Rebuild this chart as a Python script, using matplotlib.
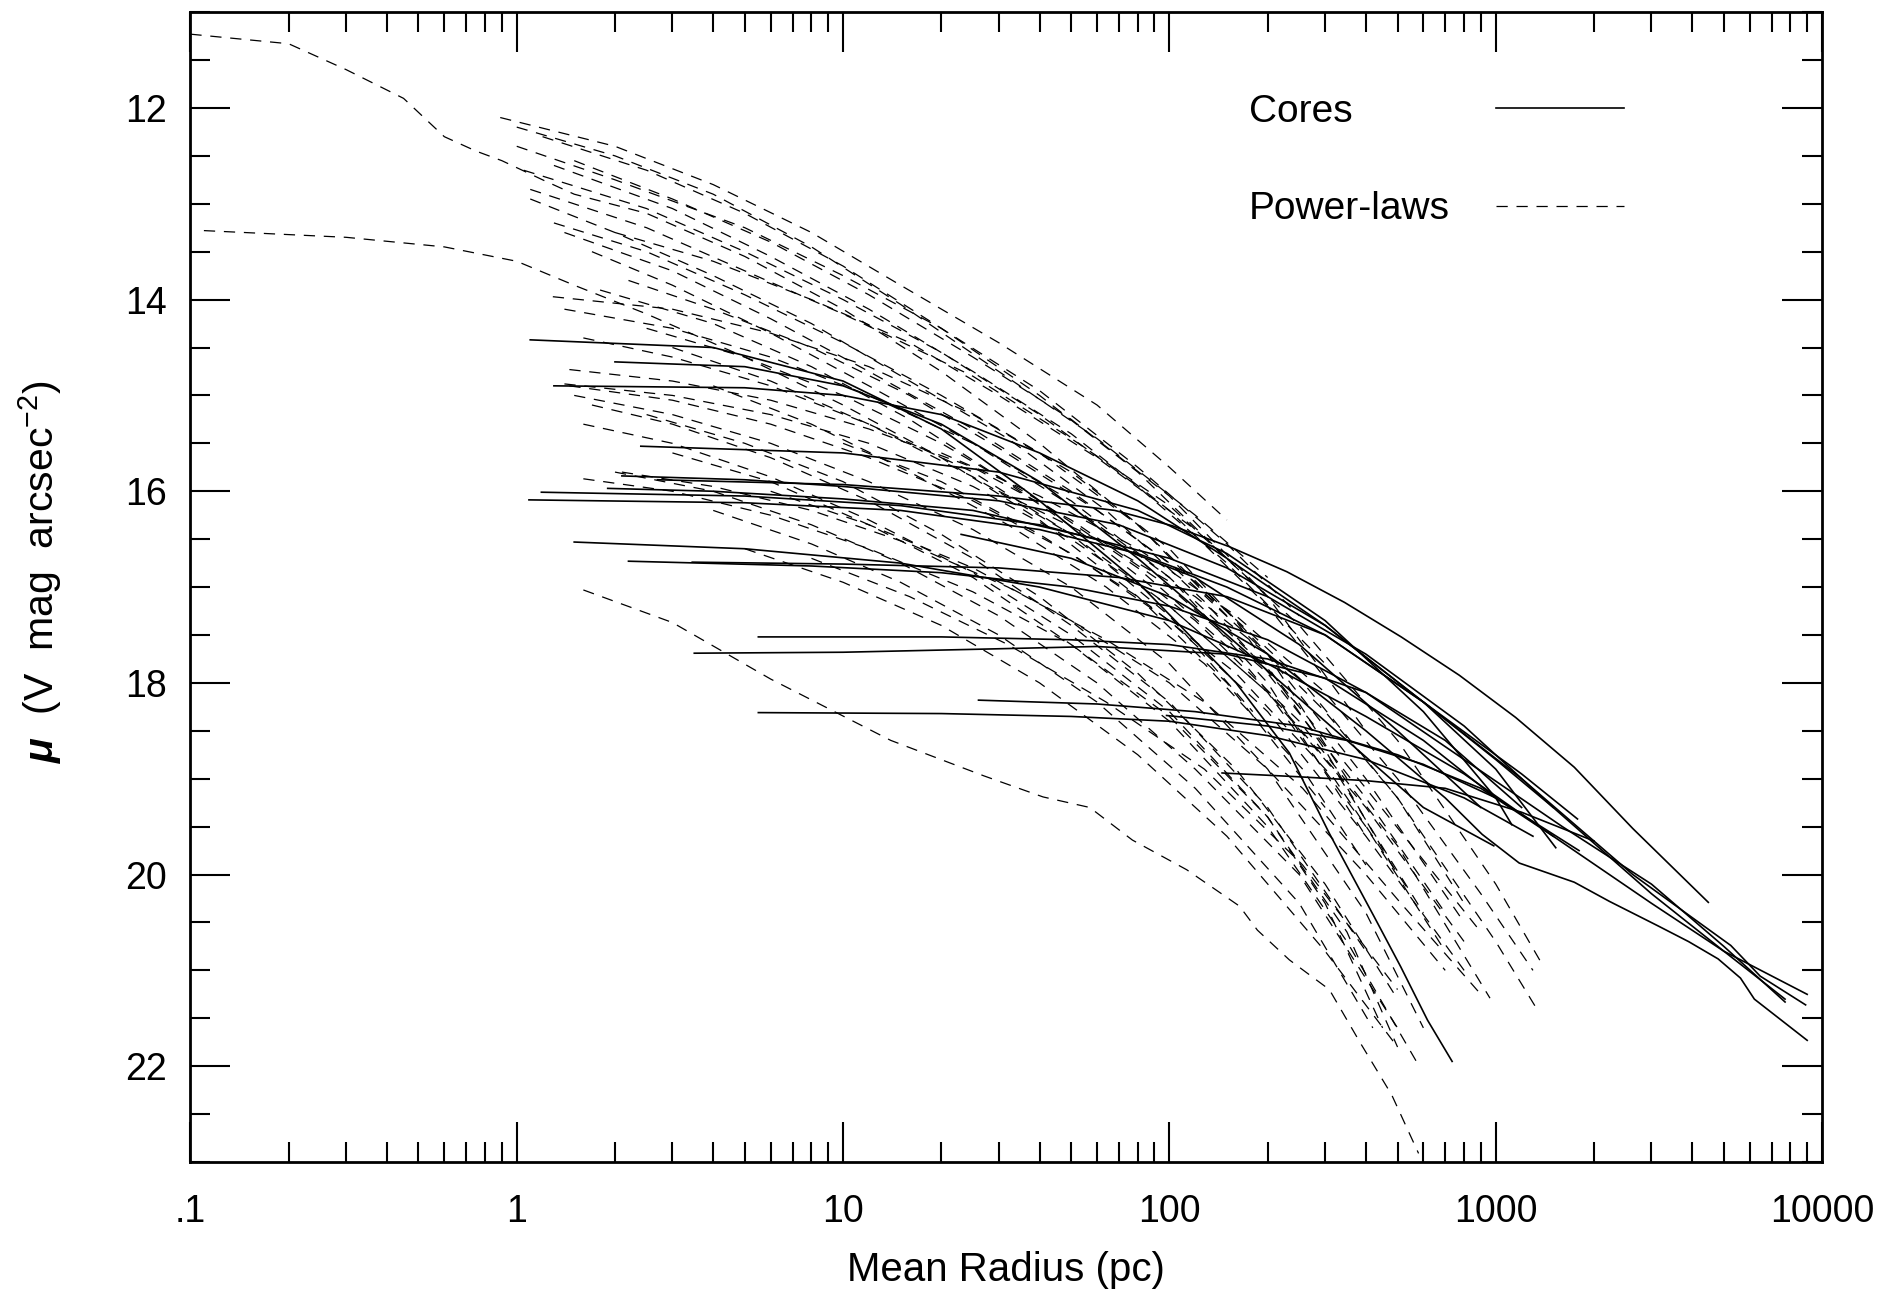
import numpy as np
import matplotlib
matplotlib.use("Agg")
import matplotlib.pyplot as plt
from matplotlib.lines import Line2D
from matplotlib.ticker import FixedLocator, FixedFormatter, NullFormatter

plt.rcParams['font.family'] = ['Liberation Sans', 'DejaVu Sans']
plt.rcParams['mathtext.fontset'] = 'custom'
plt.rcParams['mathtext.rm'] = 'Liberation Sans'
plt.rcParams['mathtext.it'] = 'Liberation Sans:italic'
plt.rcParams['mathtext.bf'] = 'Liberation Sans:bold:italic'

# profils "core" (traits pleins) : rayon moyen (pc) et brillance (V mag arcsec^-2)
core_r = [
    [1.1, 4, 10, 20, 40, 80, 160, 233, 309, 424, 511, 618, 735],
    [2.0, 5, 10, 20, 40, 80, 150, 300, 600, 986],
    [1.3, 5, 10, 20, 40, 80, 150, 300, 600, 1200, 1780],
    [2.1, 5, 10, 30, 70, 150, 300, 600, 1000, 1527],
    [2.7, 10, 30, 68, 102, 153, 229, 344, 513, 773, 1150, 1740, 2630, 4480],
    [1.5, 5, 15, 40, 100, 200, 400, 800, 1500, 3000, 5000, 9000],
    [2.2, 8, 20, 50, 100, 200, 400, 800, 1600, 3000, 5000, 7700],
    [23, 50, 100, 200, 400, 700, 908, 1180, 1740, 2230, 3160, 3900, 4800, 5620, 6200, 9000],
    [1.09, 5, 15, 40, 80, 150, 300, 600, 1200, 2630, 3890, 5250, 6460, 8900],
    [1.19, 5, 15, 40, 100, 200, 400, 800, 1500, 3000, 5000, 7700],
    [2.4, 10, 30, 80, 150, 300, 600, 1000, 1120],
    [1.9, 4, 10, 25, 60, 120, 250, 500, 900],
    [5.5, 20, 50, 100, 200, 400, 700, 1200],
    [3.5, 10, 25, 60, 150, 300, 600, 1000],
    [5.5, 20, 50, 100, 200, 400, 800, 1300],
    [26, 60, 120, 250, 500, 900, 1500],
    [145, 250, 400, 700, 1200, 2000],
    [98, 200, 350, 600, 1000, 1800],
    [3.45, 10, 30, 70, 150, 300, 600, 1000, 1500],
]
core_mu = [
    [14.42, 14.5, 14.85, 15.35, 16.1, 16.95, 18.0, 18.73, 19.57, 20.44, 20.96, 21.52, 21.95],
    [14.65, 14.7, 14.9, 15.3, 15.9, 16.7, 17.5, 18.4, 19.3, 19.7],
    [14.9, 14.92, 15.0, 15.2, 15.6, 16.1, 16.7, 17.4, 18.2, 18.95, 19.42],
    [15.84, 15.88, 15.95, 16.1, 16.35, 16.8, 17.4, 18.2, 18.9, 19.72],
    [15.88, 15.93, 16.05, 16.2, 16.36, 16.58, 16.84, 17.16, 17.52, 17.92, 18.36, 18.88, 19.52, 20.29],
    [16.53, 16.6, 16.75, 17.0, 17.35, 17.8, 18.35, 18.95, 19.6, 20.3, 20.8, 21.25],
    [16.73, 16.78, 16.85, 17.0, 17.2, 17.55, 18.1, 18.8, 19.5, 20.1, 20.75, 21.33],
    [16.45, 16.7, 17.1, 17.7, 18.5, 19.2, 19.58, 19.88, 20.08, 20.28, 20.54, 20.7, 20.88, 21.08, 21.3, 21.73],
    [16.09, 16.12, 16.2, 16.4, 16.65, 17.0, 17.5, 18.2, 19.0, 20.0, 20.42, 20.74, 21.06, 21.36],
    [16.01, 16.05, 16.15, 16.35, 16.7, 17.1, 17.7, 18.45, 19.3, 20.2, 20.8, 21.3],
    [15.53, 15.6, 15.8, 16.2, 16.65, 17.35, 18.3, 19.2, 19.48],
    [15.97, 16.0, 16.08, 16.2, 16.5, 16.9, 17.6, 18.5, 19.3],
    [17.52, 17.52, 17.55, 17.6, 17.75, 18.1, 18.6, 19.3],
    [17.69, 17.68, 17.65, 17.62, 17.7, 17.95, 18.6, 19.2],
    [18.31, 18.32, 18.35, 18.4, 18.55, 18.8, 19.2, 19.6],
    [18.18, 18.22, 18.3, 18.45, 18.75, 19.1, 19.6],
    [18.94, 18.98, 19.02, 19.1, 19.35, 19.65],
    [18.34, 18.45, 18.6, 18.85, 19.2, 19.75],
    [16.74, 16.76, 16.8, 16.9, 17.1, 17.5, 18.2, 18.8, 19.3],
]

# profils "power-law" (tirets)
power_r = [
    [0.1, 0.2, 0.3, 0.45, 0.6, 0.75, 0.9, 1.2, 1.5, 2.5, 5, 10, 20, 40, 80, 150],
    [0.11, 0.3, 0.6, 1.0, 1.5, 2.5, 5, 10, 20, 40, 80, 150, 300],
    [0.89, 2, 4, 8, 15, 30, 60, 100, 150],
    [1.0, 2, 4, 8, 15, 30, 60, 120, 200],
    [1.0, 2, 5, 10, 20, 40, 80, 150, 250],
    [1.05, 2.5, 5, 10, 20, 40, 80, 150, 300],
    [1.1, 2.5, 5, 10, 25, 50, 100, 200, 400],
    [1.29, 3, 6, 12, 25, 50, 100, 200, 350],
    [1.4, 3, 6, 12, 25, 50, 100, 200, 400],
    [1.45, 3, 6, 12, 25, 50, 100, 200, 400, 700],
    [1.45, 3, 6, 12, 25, 50, 100, 200, 400, 800],
    [1.5, 3, 6, 12, 25, 50, 100, 200, 400, 600],
    [1.6, 3, 6, 12, 25, 50, 100, 200, 350, 500],
    [1.6, 3, 6, 12, 25, 50, 100, 200, 300, 450],
    [2.0, 4, 8, 15, 30, 60, 120, 250, 500],
    [1.3, 2.5, 5, 10, 20, 40, 80, 160, 300, 500],
    [1.4, 3, 6, 12, 25, 50, 100, 200, 400, 800],
    [1.7, 3, 6, 12, 25, 50, 100, 200, 400, 900],
    [2.0, 4, 8, 16, 30, 60, 120, 250, 500, 1000, 1400],
    [2.2, 4, 8, 16, 30, 60, 120, 250, 500, 1000, 1340],
    [1.8, 4, 8, 16, 30, 60, 120, 250, 500, 960],
    [2.5, 5, 10, 20, 40, 80, 160, 320, 600],
    [3, 6, 12, 25, 50, 100, 200, 400, 800],
    [2.5, 5, 10, 20, 40, 80, 160, 300, 500],
    [3, 6, 12, 25, 50, 100, 200, 350, 580],
    [4, 8, 15, 30, 60, 120, 250, 420],
    [5, 10, 20, 40, 80, 150, 300, 500],
    [1.6, 3, 6, 14, 27, 41, 57, 77, 113, 164, 186, 233, 309, 385, 480, 580],
    [1.2, 2.5, 5, 10, 20, 40, 80, 150],
    [1.3, 3, 6, 12, 25, 50, 100, 200, 300],
    [1.5, 3, 6, 12, 25, 50, 100, 200],
    [1.1, 2, 4, 8, 16, 32, 64, 128, 250],
    [1.6, 3, 6, 12, 25, 50, 100, 180],
    [1.4, 3, 6, 12, 25, 50, 100, 200, 400, 700],
    [1.7, 3, 6, 12, 25, 50, 100, 200, 400],
    [2.1, 4, 8, 16, 32, 64, 128, 256, 512, 900],
    [4, 8, 16, 32, 64, 128, 256, 400],
    [6, 12, 25, 50, 100, 200, 400, 700],
    [8, 16, 32, 64, 128, 256, 500],
    [10, 20, 40, 80, 160, 320, 550],
    [20, 40, 80, 160, 300, 500, 900, 1300],
    [30, 60, 120, 200, 300, 500, 800],
]
power_mu = [
    [11.23, 11.33, 11.6, 11.9, 12.3, 12.45, 12.55, 12.75, 12.9, 13.1, 13.55, 14.1, 14.75, 15.5, 16.35, 17.3],
    [13.28, 13.35, 13.45, 13.6, 13.85, 14.15, 14.6, 15.1, 15.65, 16.3, 17.1, 18.0, 19.3],
    [12.1, 12.4, 12.8, 13.3, 13.85, 14.45, 15.1, 15.75, 16.3],
    [12.2, 12.5, 12.9, 13.45, 14.05, 14.75, 15.45, 16.25, 16.9],
    [12.4, 12.75, 13.25, 13.75, 14.3, 14.95, 15.75, 16.55, 17.3],
    [12.65, 13.05, 13.5, 14.0, 14.55, 15.2, 15.95, 16.75, 17.8],
    [12.85, 13.25, 13.7, 14.15, 14.8, 15.45, 16.15, 17.1, 18.5],
    [13.97, 14.1, 14.35, 14.7, 15.2, 15.8, 16.6, 17.7, 19.0],
    [14.1, 14.3, 14.6, 15.0, 15.5, 16.1, 16.9, 18.0, 19.6],
    [14.73, 14.85, 15.05, 15.35, 15.75, 16.3, 17.0, 17.9, 19.2, 20.4],
    [14.9, 15.05, 15.3, 15.65, 16.1, 16.65, 17.35, 18.3, 19.6, 21.0],
    [15.0, 15.2, 15.5, 15.9, 16.4, 17.0, 17.8, 18.9, 20.4, 21.6],
    [15.3, 15.5, 15.85, 16.3, 16.85, 17.5, 18.3, 19.4, 20.6, 21.8],
    [15.87, 16.0, 16.25, 16.6, 17.05, 17.6, 18.35, 19.4, 20.3, 21.6],
    [15.8, 16.0, 16.35, 16.75, 17.3, 18.0, 18.9, 20.0, 21.6],
    [13.2, 13.5, 13.95, 14.45, 15.0, 15.6, 16.35, 17.35, 18.7, 20.0],
    [13.3, 13.7, 14.2, 14.75, 15.35, 16.0, 16.75, 17.7, 19.0, 20.5],
    [13.5, 13.85, 14.35, 14.9, 15.5, 16.15, 16.9, 17.85, 19.1, 20.6],
    [13.3, 13.6, 14.0, 14.45, 15.0, 15.65, 16.4, 17.4, 18.6, 20.1, 20.96],
    [13.8, 14.1, 14.5, 15.0, 15.55, 16.2, 16.95, 17.95, 19.2, 20.7, 21.41],
    [13.9, 14.25, 14.7, 15.25, 15.85, 16.55, 17.35, 18.4, 19.7, 21.29],
    [14.3, 14.6, 15.0, 15.5, 16.1, 16.8, 17.7, 18.9, 20.4],
    [14.5, 14.85, 15.3, 15.85, 16.45, 17.2, 18.1, 19.3, 20.7],
    [15.2, 15.5, 15.9, 16.45, 17.1, 17.9, 18.9, 20.1, 21.3],
    [15.6, 15.9, 16.35, 16.9, 17.6, 18.4, 19.5, 20.7, 21.99],
    [16.2, 16.55, 16.95, 17.5, 18.2, 19.1, 20.3, 21.6],
    [16.6, 16.95, 17.4, 18.0, 18.75, 19.6, 20.8, 21.8],
    [17.03, 17.37, 17.96, 18.6, 18.97, 19.19, 19.3, 19.64, 19.95, 20.33, 20.58, 20.89, 21.2, 21.76, 22.3, 22.91],
    [12.3, 12.65, 13.1, 13.65, 14.3, 15.0, 15.8, 16.7],
    [12.6, 13.05, 13.55, 14.1, 14.75, 15.4, 16.2, 17.2, 17.95],
    [12.55, 12.95, 13.4, 13.95, 14.6, 15.25, 16.05, 17.1],
    [12.95, 13.3, 13.75, 14.25, 14.85, 15.45, 16.2, 17.15, 18.25],
    [14.4, 14.6, 14.9, 15.3, 15.8, 16.45, 17.3, 18.3],
    [14.88, 15.0, 15.2, 15.5, 15.95, 16.5, 17.2, 18.1, 19.5, 20.8],
    [15.1, 15.3, 15.65, 16.1, 16.7, 17.4, 18.2, 19.3, 20.8],
    [15.8, 15.95, 16.2, 16.55, 17.0, 17.55, 18.2, 19.1, 20.3, 21.25],
    [14.9, 15.3, 15.8, 16.35, 17.0, 17.8, 18.9, 19.9],
    [16.0, 16.35, 16.8, 17.35, 18.0, 18.9, 20.0, 21.0],
    [16.7, 17.1, 17.6, 18.2, 18.9, 19.9, 21.2],
    [15.5, 15.9, 16.45, 17.1, 17.9, 19.0, 20.2],
    [15.6, 16.05, 16.6, 17.3, 18.1, 19.0, 20.2, 21.0],
    [16.0, 16.5, 17.1, 17.7, 18.3, 19.2, 20.3],
]

x_major = [0.1, 1, 10, 100, 1000, 10000]
x_labels = ['.1', '1', '10', '100', '1000', '10000']
y_major = [12, 14, 16, 18, 20, 22]
legend_labels = ['Cores', 'Power-laws']

CORE_STYLE = dict(color='black', lw=1.2)
POWER_STYLE = dict(color='black', lw=0.9, dashes=(9, 7))

fig = plt.figure(figsize=(19.02, 12.89), dpi=100)
ax = fig.add_axes([0.1001, 0.0985, 0.8579, 0.8921])

for r, mu in zip(core_r, core_mu):
    ax.plot(r, mu, **CORE_STYLE)
for r, mu in zip(power_r, power_mu):
    ax.plot(r, mu, **POWER_STYLE)

ax.set_xscale('log')
ax.set_xlim(0.1, 10000)
ax.set_ylim(23, 11)

ax.xaxis.set_major_locator(FixedLocator(x_major))
ax.xaxis.set_major_formatter(FixedFormatter(x_labels))
minors = [m * d for d in x_major[:-1] for m in range(2, 10)]
ax.xaxis.set_minor_locator(FixedLocator(minors))
ax.xaxis.set_minor_formatter(NullFormatter())
ax.yaxis.set_major_locator(FixedLocator(y_major))
ax.yaxis.set_minor_locator(FixedLocator(np.arange(11, 23.01, 0.5)))

ax.tick_params(which='both', direction='in', top=True, right=True, width=1.5)
ax.tick_params(which='major', length=29, labelsize=27)
ax.tick_params(axis='x', which='major', pad=23)
ax.tick_params(axis='y', which='major', pad=17)
ax.tick_params(which='minor', length=14.5)
for s in ax.spines.values():
    s.set_linewidth(2.0)

ax.set_xlabel('Mean Radius (pc)', fontsize=29, labelpad=15)
ax.set_ylabel(r'$\mathbf{\mu}$  (V  mag  arcsec$^{-2}$)', fontsize=29.5)
ax.yaxis.set_label_coords(-0.0775, 0.5137)

# légende : texte aligné à gauche, trait à droite
legend_y = [0.9133, 0.8285]
for lab, yy in zip(legend_labels, legend_y):
    ax.text(0.6488, yy, lab, transform=ax.transAxes, fontsize=28,
            ha='left', va='center')
leg1 = ax.legend([Line2D([], [], **CORE_STYLE)], [''], loc='center left',
                 bbox_to_anchor=(0.800, legend_y[0]), frameon=False, handlelength=3.3,
                 handletextpad=0, borderpad=0, borderaxespad=0, fontsize=28)
ax.add_artist(leg1)
ax.legend([Line2D([], [], **POWER_STYLE)], [''], loc='center left',
          bbox_to_anchor=(0.800, legend_y[1]), frameon=False, handlelength=3.3,
          handletextpad=0, borderpad=0, borderaxespad=0, fontsize=28)

fig.savefig('out.png', dpi=100, facecolor='white')
